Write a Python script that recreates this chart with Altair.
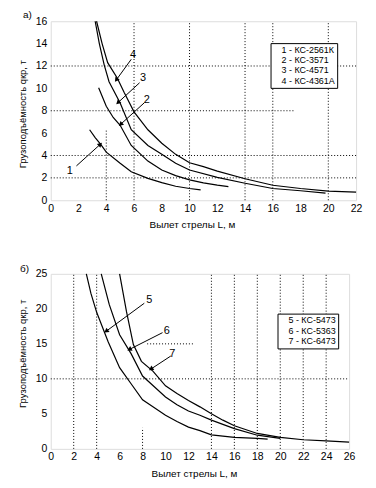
import altair as alt
import pandas as pd
import numpy as np

FONT = "Liberation Sans"

# ---------------- top chart (а) ----------------
TOP_NAMES = ["1 - КС-2561К", "2 - КС-3571", "3 - КС-4571", "4 - КС-4361А"]
L1 = [2.8, 3.2, 3.6, 4.0, 5.0, 5.8, 7.0, 8.0, 9.0, 10.0, 10.8]
Q1 = [6.3, 5.6, 5.0, 4.3, 3.3, 2.55, 1.95, 1.58, 1.25, 1.05, 0.93]
L2 = [3.45, 4.0, 4.5, 5.0, 5.8, 7.0, 8.0, 9.0, 10.0, 11.0, 12.0, 12.8]
Q2 = [10.05, 8.4, 7.4, 6.7, 4.9, 3.5, 2.7, 2.2, 1.82, 1.55, 1.35, 1.22]
L3 = [3.2, 3.5, 3.85, 4.2, 5.0, 5.8, 7.0, 8.0, 9.0, 10.0, 12.0, 14.0, 16.0, 18.0, 19.8]
Q3 = [16.0, 14.0, 12.1, 10.6, 8.7, 6.3, 4.9, 4.1, 3.3, 2.7, 2.05, 1.52, 1.05, 0.85, 0.63]
L4 = [3.3, 3.7, 4.1, 4.8, 5.3, 6.0, 7.0, 8.0, 9.0, 10.0, 11.0, 12.0, 14.0, 16.0, 18.0, 20.0, 22.0]
Q4 = [16.0, 14.0, 12.3, 10.9, 9.6, 7.9, 6.3, 5.1, 4.1, 3.35, 3.0, 2.6, 1.92, 1.34, 1.05, 0.82, 0.72]

TOP_X_TICKS = list(range(0, 23, 2))
TOP_Y_TICKS = list(range(0, 17, 2))

TOP_VGRID_X = [4, 6, 10, 14, 16, 20]
TOP_VGRID_Y0 = [0, 0, 0, 0, 0, 0]
TOP_VGRID_Y1 = [6.3, 16, 16, 16, 16, 16]
TOP_HGRID_Y = [12, 8, 4, 2]
TOP_HGRID_X0 = [0, 0, 0, 0]
TOP_HGRID_X1 = [22, 17.5, 22, 22]

TOP_ARROW_LABEL = ["1", "2", "3", "4"]
TOP_LABEL_X = [1.37, 6.92, 6.64, 5.92]
TOP_LABEL_Y = [2.6, 9.0, 10.95, 12.98]
TOP_START_X = [1.85, 6.75, 6.4, 5.8]
TOP_START_Y = [3.07, 8.72, 10.5, 12.6]
TOP_TIP_X = [3.57, 5.03, 4.84, 4.72]
TOP_TIP_Y = [5.0, 6.78, 8.72, 10.75]

# ---------------- bottom chart (б) ----------------
BOT_NAMES = ["5 - КС-5473", "6 - КС-5363", "7 - КС-6473"]
L5 = [3.1, 3.5, 4.0, 5.0, 6.0, 7.0, 8.0, 9.0, 10.0, 11.0, 12.0, 13.0, 14.0, 16.0, 18.0, 18.9]
Q5 = [25, 22.2, 19.5, 15.3, 11.6, 9.3, 7.0, 5.9, 4.8, 3.9, 3.1, 2.6, 2.0, 1.65, 1.5, 1.4]
L6 = [4.4, 5.1, 6.0, 7.0, 8.0, 9.0, 10.0, 11.0, 12.0, 13.0, 14.0, 16.0, 18.0, 20.0]
Q6 = [25, 20.6, 16.3, 13.6, 10.4, 8.9, 7.4, 6.3, 5.4, 4.8, 4.1, 2.9, 1.95, 1.5]
L7 = [6.0, 6.6, 7.2, 7.9, 8.9, 10.0, 11.0, 12.0, 13.0, 14.0, 15.0, 16.0, 18.0, 20.0, 22.0, 24.0, 26.0]
Q7 = [25, 19.6, 14.9, 12.5, 11.1, 9.0, 7.9, 6.9, 6.0, 5.0, 4.1, 3.3, 2.2, 1.65, 1.3, 1.15, 0.95]

BOT_X_TICKS = list(range(0, 27, 2))
BOT_Y_TICKS = list(range(0, 26, 5))

BOT_VGRID_X = [2, 4, 8, 14, 16, 18, 20, 22, 24]
BOT_VGRID_Y0 = [0, 0, 0, 0, 0, 0, 0, 0, 0]
BOT_VGRID_Y1 = [25, 25, 3, 25, 25, 25, 25, 25, 25]
BOT_HGRID_Y = [10, 15]
BOT_HGRID_X0 = [0, 8.4]
BOT_HGRID_X1 = [26, 12.5]

BOT_ARROW_LABEL = ["5", "6", "7"]
BOT_LABEL_X = [8.58, 10.1, 10.6]
BOT_LABEL_Y = [21.2, 16.9, 13.5]
BOT_START_X = [8.15, 9.74, 10.46]
BOT_START_Y = [20.8, 16.6, 13.26]
BOT_TIP_X = [4.83, 6.85, 8.73]
BOT_TIP_Y = [16.8, 14.2, 11.4]


def curves_df(names, Ls, Qs):
    rows = []
    for n, ls, qs in zip(names, Ls, Qs):
        for l, q in zip(ls, qs):
            rows.append({"series": n, "L": l, "q": q})
    return pd.DataFrame(rows)


def panel(names, Ls, Qs, xmax, ymax, xticks, yticks, vgx, vgy0, vgy1,
          hgy, hgx0, hgx1, alab, alx, aly, asx, asy, atx, aty,
          width, height, letter, letter_dx, letter_offset, legx, legy,
          xtitle_x, ytitle_y):
    xs = alt.Scale(domain=[0, xmax], nice=False, zero=False)
    ys = alt.Scale(domain=[0, ymax], nice=False, zero=False)
    xaxis = alt.Axis(values=xticks, title="Вылет стрелы L, м", grid=False,
                     ticks=False, domain=False, labelPadding=3, titlePadding=6,
                     labelOverlap=False, labelFlush=False, titleX=xtitle_x,
                     titleFontWeight="normal", titleFont=FONT, titleFontSize=10,
                     labelFont=FONT, labelFontSize=10.5, labelColor="black",
                     titleColor="black")
    yaxis = alt.Axis(values=yticks, title="Грузоподъёмность qкр, т", grid=False,
                     ticks=False, domain=False, labelPadding=4, titlePadding=8,
                     labelOverlap=False, labelFlush=False, titleY=ytitle_y,
                     titleFontWeight="normal", titleFont=FONT, titleFontSize=9.5,
                     labelFont=FONT, labelFontSize=10.5, labelColor="black",
                     titleColor="black")

    def X(f):
        return alt.X(f, scale=xs, axis=xaxis)

    def Y(f):
        return alt.Y(f, scale=ys, axis=yaxis)

    grid_df = pd.DataFrame(
        {"x": list(vgx) + list(hgx0), "x2": list(vgx) + list(hgx1),
         "y": list(vgy0) + list(hgy), "y2": list(vgy1) + list(hgy)})
    grid = alt.Chart(grid_df).mark_rule(
        color="black", strokeDash=[1, 2], strokeWidth=1
    ).encode(x=X("x:Q"), x2="x2:Q", y=Y("y:Q"), y2="y2:Q")

    cdf = curves_df(names, Ls, Qs)
    lines = alt.Chart(cdf).mark_line(strokeWidth=1.2, clip=False).encode(
        x=X("L:Q"),
        y=Y("q:Q"),
        color=alt.Color(
            "series:N",
            scale=alt.Scale(domain=names, range=["black"] * len(names)),
            legend=alt.Legend(
                title=None, orient="none", legendX=legx, legendY=legy,
                strokeColor="black", fillColor="white", padding=2,
                labelFont=FONT, labelFontSize=9, labelColor="black",
                symbolSize=0, symbolOpacity=0, symbolStrokeWidth=0,
                labelOffset=0, rowPadding=0.5, symbolType="stroke"),
        ),
    )

    sx = width / xmax
    sy = height / ymax
    ang = []
    for x0, y0, x1, y1 in zip(asx, asy, atx, aty):
        dx = (x1 - x0) * sx
        dy = -(y1 - y0) * sy
        ang.append(float(np.degrees(np.arctan2(dx, -dy))) % 360)
    adf = pd.DataFrame({"lab": alab, "lx": alx, "ly": aly, "sx": asx, "sy": asy,
                        "tx": atx, "ty": aty, "ang": ang})
    arrows = alt.Chart(adf).mark_rule(color="black", strokeWidth=1).encode(
        x=X("sx:Q"), y=Y("sy:Q"), x2="tx:Q", y2="ty:Q")
    heads = alt.Chart(adf).mark_point(shape="triangle-up", filled=True, size=28,
                                      color="black", opacity=1).encode(
        x=X("tx:Q"), y=Y("ty:Q"),
        angle=alt.Angle("ang:Q", scale=None))
    labels = alt.Chart(adf).mark_text(font=FONT, fontSize=11, color="black").encode(
        x=X("lx:Q"), y=Y("ly:Q"), text="lab:N")

    return alt.layer(grid, lines, arrows, heads, labels).properties(
        width=width, height=height,
        title=alt.TitleParams(letter, anchor="start", frame="group", dx=letter_dx,
                              offset=letter_offset, fontSize=10, fontWeight="normal",
                              font=FONT, color="black"),
    )


top = panel(TOP_NAMES, [L1, L2, L3, L4], [Q1, Q2, Q3, Q4], 22, 16,
            TOP_X_TICKS, TOP_Y_TICKS, TOP_VGRID_X, TOP_VGRID_Y0, TOP_VGRID_Y1,
            TOP_HGRID_Y, TOP_HGRID_X0, TOP_HGRID_X1,
            TOP_ARROW_LABEL, TOP_LABEL_X, TOP_LABEL_Y, TOP_START_X, TOP_START_Y,
            TOP_TIP_X, TOP_TIP_Y, 307, 180, "а)", -28, -4, 221, 22, 142, 93)

bottom = panel(BOT_NAMES, [L5, L6, L7], [Q5, Q6, Q7], 26, 25,
               BOT_X_TICKS, BOT_Y_TICKS, BOT_VGRID_X, BOT_VGRID_Y0, BOT_VGRID_Y1,
               BOT_HGRID_Y, BOT_HGRID_X0, BOT_HGRID_X1,
               BOT_ARROW_LABEL, BOT_LABEL_X, BOT_LABEL_Y, BOT_START_X, BOT_START_Y,
               BOT_TIP_X, BOT_TIP_Y, 300, 176, "б)", -31, -5, 228, 40, 144, 80)

chart = alt.vconcat(top, bottom, spacing=33).resolve_scale(
    color="independent", x="independent", y="independent"
).resolve_legend(color="independent").properties(
    padding={"left": 8, "top": 0, "right": 5, "bottom": 0}
).configure_view(stroke="black", strokeWidth=1).configure_axis(
    labelFont=FONT, labelFontSize=10.5, labelColor="black", labelOverlap=False,
    titleFont=FONT, titleFontSize=10, titleFontWeight="normal", titleColor="black"
).configure_title(fontWeight="normal").configure(background="white")

chart.save("out.html", embed_options={"renderer": "svg", "actions": False})
